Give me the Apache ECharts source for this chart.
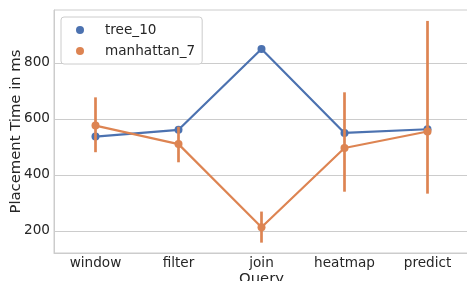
<!DOCTYPE html>
<html><head><meta charset="utf-8">
<script src="https://cdn.jsdelivr.net/npm/echarts@6/dist/echarts.min.js"></script>
<style>html,body{margin:0;padding:0;background:#fff}#c{width:467px;height:281px}</style>
</head><body><div id="c"></div>
<script>
const categories = ['window', 'filter', 'join', 'heatmap', 'predict'];
const tree10 = [537, 561, 850, 550, 563];
const tree10Low = [530, 554, 845, 543, 557];
const tree10High = [544, 568, 855, 557, 570];
const manhattan7 = [576, 510, 213, 496, 555];
const manhattan7Low = [481, 445, 158, 340, 333];
const manhattan7High = [677, 572, 269, 695, 950];
const yTicks = [200, 400, 600, 800];

const BLUE = '#4c72b0', ORANGE = '#dd8452', TXT = '#262626', GRID = '#cccccc';
const font = 'DejaVu Sans';

function errSeries(name, low, high, color, z) {
  return {
    type: 'custom', name: name, z: z, silent: true,
    data: low.map((l, i) => [i, l, high[i]]),
    renderItem: function (params, api) {
      const p1 = api.coord([api.value(0), api.value(1)]);
      const p2 = api.coord([api.value(0), api.value(2)]);
      return { type: 'line', shape: { x1: p1[0], y1: p1[1], x2: p2[0], y2: p2[1] },
        style: { stroke: color, lineWidth: 2.7 } };
    }
  };
}

const chart = echarts.init(document.getElementById('c'), null, { renderer: 'canvas' });
chart.setOption({
  animation: false,
  textStyle: { fontFamily: font },
  grid: { left: 54, top: 10, right: -2, bottom: 28, show: true, borderColor: GRID, borderWidth: 1,
          containLabel: false, outerBoundsMode: 'none' },
  legend: {
    orient: 'vertical', left: 61, top: 17,
    padding: [5, 7, 5, 15],
    itemWidth: 8, itemHeight: 8, itemGap: 5,
    borderColor: GRID, borderWidth: 1, borderRadius: 3, backgroundColor: '#fff',
    textStyle: { fontFamily: font, fontSize: 13.6, color: TXT, lineHeight: 16, padding: [0, 0, 0, 16] },
    data: [{ name: 'tree_10', icon: 'circle', itemStyle: { color: BLUE } },
           { name: 'manhattan_7', icon: 'circle', itemStyle: { color: ORANGE } }]
  },
  xAxis: {
    type: 'category', data: categories, boundaryGap: true,
    name: 'Query', nameLocation: 'middle', nameGap: 19, nameMoveOverlap: false,
    nameTextStyle: { fontFamily: font, fontSize: 14.8, color: TXT },
    axisLine: { show: true, lineStyle: { color: GRID, width: 1 } },
    axisTick: { show: false },
    axisLabel: { fontFamily: font, fontSize: 13.6, color: TXT, margin: 3 },
    splitLine: { show: false }
  },
  yAxis: {
    type: 'value', min: 121, max: 989,
    name: 'Placement Time in ms', nameLocation: 'middle', nameGap: 30, nameMoveOverlap: false,
    nameTextStyle: { fontFamily: font, fontSize: 14.8, color: TXT },
    axisLine: { show: true, lineStyle: { color: GRID, width: 1 } },
    axisTick: { show: false },
    axisLabel: { fontFamily: font, fontSize: 13.6, color: TXT, margin: 4, customValues: yTicks },
    splitLine: { show: false }
  },
  series: [
    {
      type: 'line', name: 'tree_10', data: tree10, z: 3,
      symbol: 'circle', symbolSize: 8, color: BLUE,
      lineStyle: { color: BLUE, width: 2.2 }, itemStyle: { color: BLUE },
      markLine: {
        silent: true, symbol: 'none', label: { show: false }, z: 1,
        lineStyle: { color: GRID, width: 1, type: 'solid' },
        data: yTicks.map(v => ({ yAxis: v }))
      }
    },
    errSeries('tree_10_err', tree10Low, tree10High, BLUE, 2),
    {
      type: 'line', name: 'manhattan_7', data: manhattan7, z: 5,
      symbol: 'circle', symbolSize: 8, color: ORANGE,
      lineStyle: { color: ORANGE, width: 2.2 }, itemStyle: { color: ORANGE }
    },
    errSeries('manhattan_7_err', manhattan7Low, manhattan7High, ORANGE, 4)
  ]
});
</script></body></html>
